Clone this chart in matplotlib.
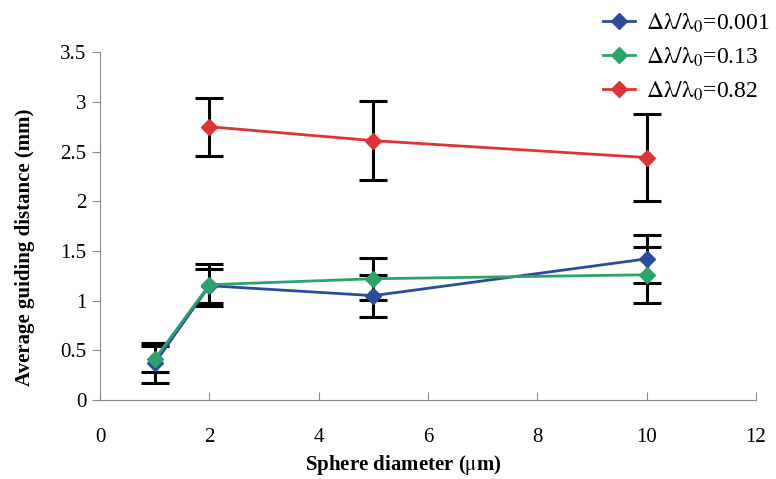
import matplotlib.pyplot as plt
import numpy as np

plt.rcParams['font.family'] = ['Liberation Serif', 'DejaVu Serif']
plt.rcParams['mathtext.fontset'] = 'stix'

# sphere diameter (um)
diam_a = [1, 2, 5, 10]
diam_red = [2, 5, 10]

# average guiding distance (mm) and error bars
dist_001 = [0.37, 1.15, 1.05, 1.42]
err_001 = [0.20, 0.17, 0.21, 0.24]
dist_013 = [0.41, 1.16, 1.22, 1.26]
err_013 = [0.13, 0.21, 0.21, 0.28]
dist_082 = [2.75, 2.61, 2.44]
err_082 = [0.29, 0.40, 0.44]

labels = [r'$\mathrm{\Delta\lambda/\lambda_0}$=0.001',
          r'$\mathrm{\Delta\lambda/\lambda_0}$=0.13',
          r'$\mathrm{\Delta\lambda/\lambda_0}$=0.82']
colors = ['#2B4C9B', '#2BA36B', '#E03333']

fig = plt.figure(figsize=(7.76, 4.79), dpi=100)
ax = fig.add_axes([0.129, 0.165, 0.845, 0.726])

series = [(diam_a, dist_001, err_001), (diam_a, dist_013, err_013),
          (diam_red, dist_082, err_082)]
handles = []
for (x, y, e), c, lab in zip(series, colors, labels):
    ax.errorbar(x, y, yerr=e, fmt='none', ecolor='black', elinewidth=2.2,
                capsize=10, capthick=2.2, zorder=2)
    h, = ax.plot(x, y, color=c, marker='D', markersize=8, linewidth=2,
                 label=lab, zorder=3)
    handles.append(h)

ax.set_xlim(0, 12)
ax.set_ylim(0, 3.5)
ax.set_xticks(np.arange(0, 13, 2))
ax.set_yticks(np.arange(0, 3.6, 0.5))
ax.set_yticklabels(['0', '0.5', '1', '1.5', '2', '2.5', '3', '3.5'])
for s in ['top', 'right']:
    ax.spines[s].set_visible(False)
for s in ['left', 'bottom']:
    ax.spines[s].set_color('#888888')
ax.tick_params(axis='y', direction='out', length=6, color='#888888',
               labelsize=15, pad=4)
ax.tick_params(axis='x', direction='in', length=6, color='#888888',
               labelsize=15, pad=20)

ax.set_xlabel(r'Sphere diameter ($\mathrm{\mu}$m)', fontsize=15,
              fontweight='bold')
ax.xaxis.set_label_coords(0.463, -0.152)
ax.set_ylabel('Average guiding distance (mm)', fontsize=15,
              fontweight='bold')
ax.yaxis.set_label_coords(-0.10, 0.44)

fig.legend(handles=handles, loc='upper right', bbox_to_anchor=(1.02, 1.02),
           frameon=False, fontsize=17, handlelength=1.35, handletextpad=0.5,
           labelspacing=0.45)

fig.savefig('out.png', dpi=100)
